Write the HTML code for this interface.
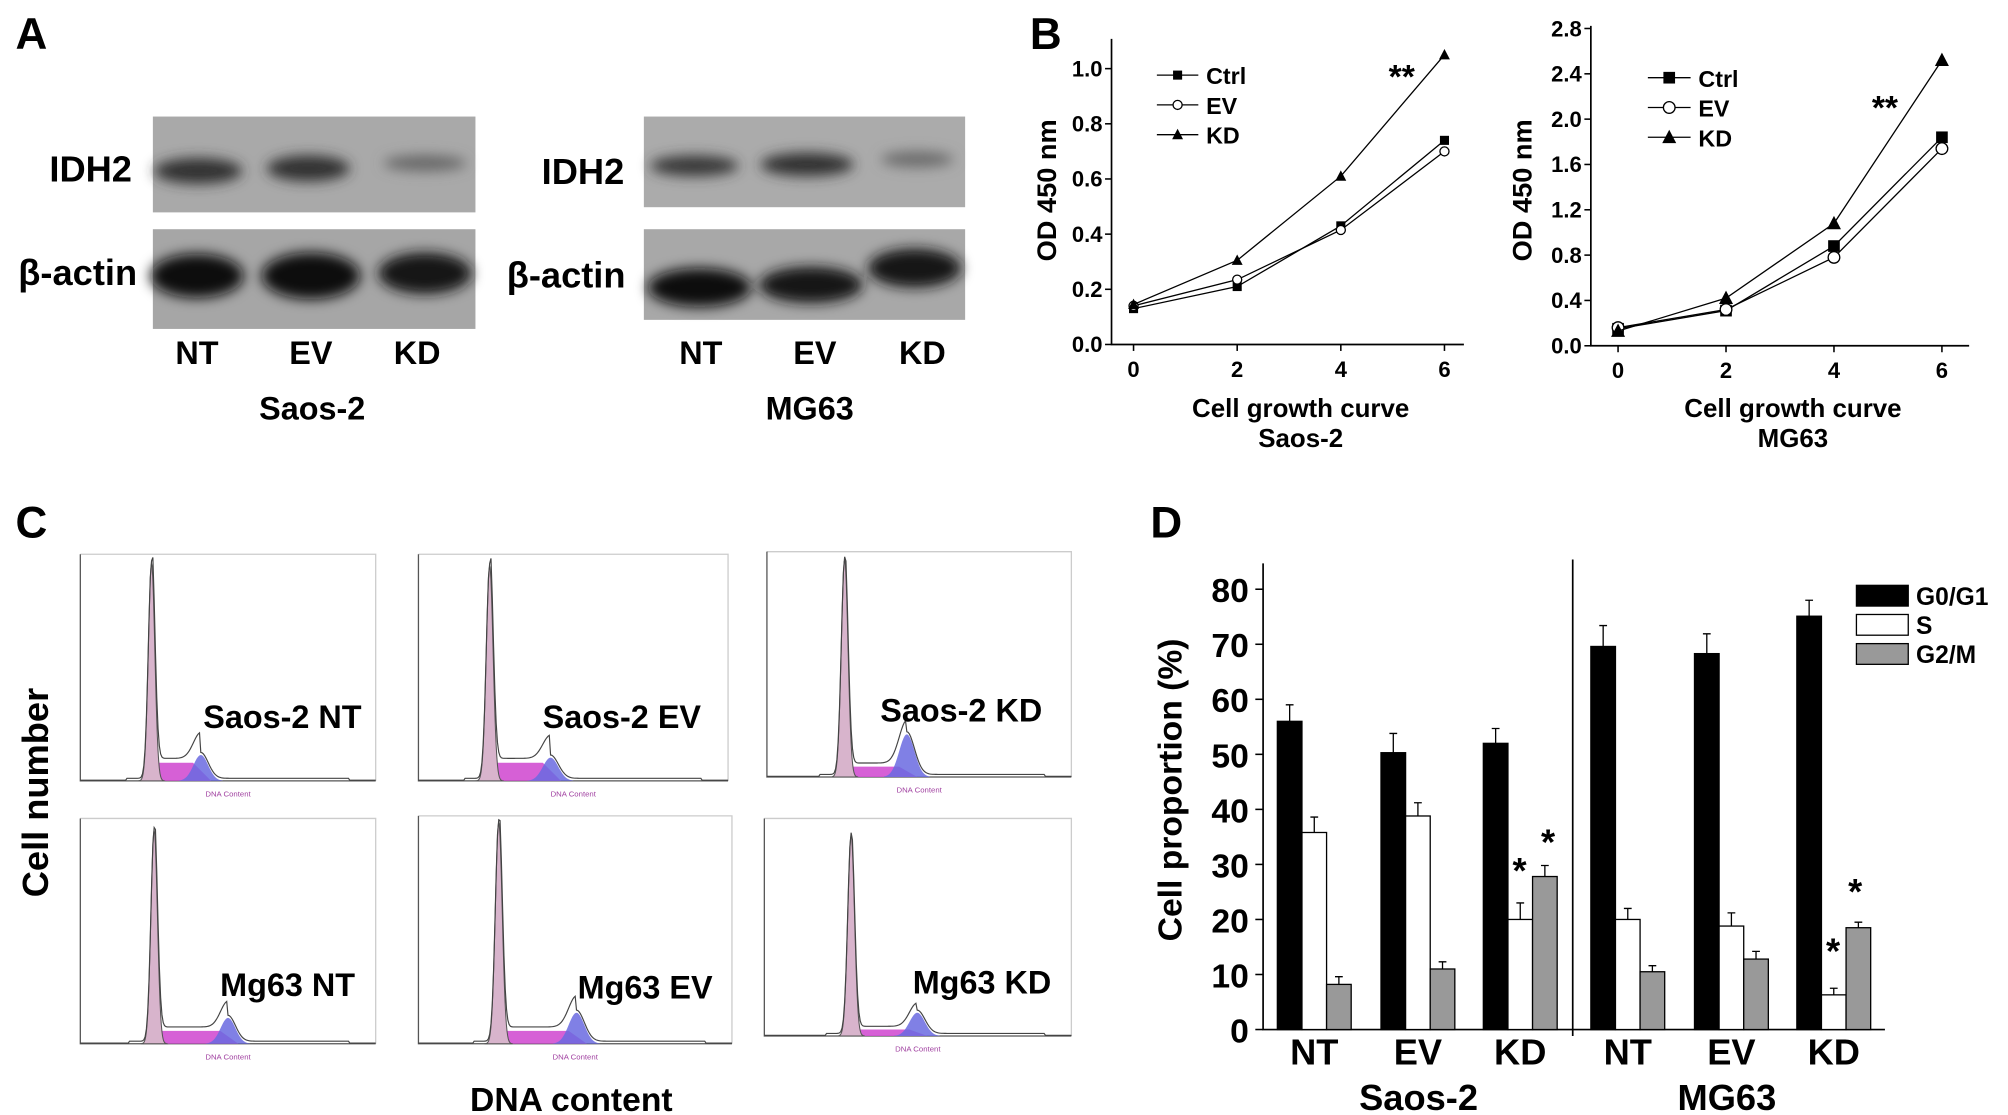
<!DOCTYPE html>
<html><head><meta charset="utf-8"><style>
html,body{margin:0;padding:0;background:#fff;}
svg{display:block;}
text{font-family:"Liberation Sans Narrow","Liberation Sans",sans-serif;font-weight:bold;fill:#000;}
.w{font-family:"Liberation Sans",sans-serif;}
</style></head><body>
<svg id="fig" width="2008" height="1115" viewBox="0 0 1550 861" preserveAspectRatio="none" xmlns="http://www.w3.org/2000/svg">
<defs>
<filter id="blur" x="-30%" y="-50%" width="160%" height="200%"><feGaussianBlur stdDeviation="5"/></filter>
</defs>
<!-- Panel letters -->
<text class="w" x="12" y="38" font-size="34">A</text>
<text class="w" x="795" y="38" font-size="34">B</text>
<text class="w" x="12" y="415" font-size="34">C</text>
<text class="w" x="888" y="415" font-size="34">D</text>

<!-- Panel A blots -->
<g>
<rect x="118" y="90" width="249" height="74" fill="#a9a9a9"/>
<rect x="118" y="177" width="249" height="77" fill="#a6a6a6"/>
<rect x="497" y="90" width="248" height="70" fill="#ababab"/>
<rect x="497" y="177" width="248" height="70" fill="#a8a8a8"/>
<g filter="url(#blur)">
<ellipse cx="153" cy="132" rx="34" ry="10" fill="#303030"/>
<ellipse cx="238" cy="130" rx="32" ry="10" fill="#333"/>
<ellipse cx="328" cy="126" rx="32" ry="6" fill="#666"/>
<ellipse cx="152" cy="213" rx="36" ry="17" fill="#111"/>
<ellipse cx="240" cy="213" rx="38" ry="18" fill="#111"/>
<ellipse cx="328" cy="211" rx="36" ry="16" fill="#151515"/>
<ellipse cx="536" cy="128" rx="34" ry="8" fill="#383838"/>
<ellipse cx="623" cy="127" rx="36" ry="9" fill="#333"/>
<ellipse cx="708" cy="123" rx="28" ry="6" fill="#6a6a6a"/>
<ellipse cx="540" cy="222" rx="40" ry="15" fill="#111"/>
<ellipse cx="626" cy="220" rx="40" ry="14" fill="#151515"/>
<ellipse cx="706" cy="207" rx="36" ry="15" fill="#151515"/>
</g>
<text x="70" y="140" font-size="28" text-anchor="middle">IDH2</text>
<text x="60" y="220" font-size="28" text-anchor="middle">β-actin</text>
<text x="450" y="142" font-size="28" text-anchor="middle">IDH2</text>
<text x="437" y="222" font-size="28" text-anchor="middle">β-actin</text>
<g font-size="25" text-anchor="middle">
<text x="152" y="281">NT</text>
<text x="240" y="281">EV</text>
<text x="322" y="281">KD</text>
<text x="541" y="281">NT</text>
<text x="629" y="281">EV</text>
<text x="712" y="281">KD</text>
<text x="241" y="324">Saos-2</text>
<text x="625" y="324">MG63</text>
</g>
</g>

<g id="panelB"></g>
<g id="panelC"></g>
<g id="panelD"></g>
</svg>
<script>
const NS='http://www.w3.org/2000/svg';
function mk(p,tag,at,txt){const e=document.createElementNS(NS,tag);for(const k in at)e.setAttribute(k,at[k]);if(txt!==undefined)e.textContent=txt;p.appendChild(e);return e;}

// ---------- Panel B data ----------
const days=[0,2,4,6];
const saosCtrl=[0.13,0.21,0.43,0.74];
const saosEV=[0.14,0.235,0.415,0.70];
const saosKD=[0.145,0.305,0.61,1.05];
const mgCtrl=[0.15,0.31,0.88,1.84];
const mgEV=[0.16,0.32,0.78,1.74];
const mgKD=[0.13,0.42,1.08,2.52];
const saosTicks=['0.0','0.2','0.4','0.6','0.8','1.0'];
const mgTicks=['0.0','0.4','0.8','1.2','1.6','2.0','2.4','2.8'];
const dayTicks=['0','2','4','6'];

const B=document.getElementById('panelB');
function growth(cfg){
  const g=mk(B,'g',{});
  
  
  const X=d=>cfg.x0+(d-0)/6*(cfg.x6-cfg.x0);
  const Y=v=>cfg.yb-v/cfg.vmax*(cfg.yb-cfg.yt);
  const ax=mk(g,'path',{d:`M${cfg.ax},${cfg.top}V${cfg.yb}H${cfg.right}`,fill:'none',stroke:'#000','stroke-width':1.3});
  
  
  cfg.ticks.forEach(t=>{const y=Y(parseFloat(t));
    mk(g,'line',{x1:cfg.ax-5,x2:cfg.ax,y1:y,y2:y,stroke:'#000','stroke-width':1.2});
    const tx=mk(g,'text',{x:cfg.ax-7,y:y+6,'font-size':17,'text-anchor':'end'},t);
    
    
  });
  dayTicks.forEach(t=>{const x=X(+t);
    mk(g,'line',{x1:x,x2:x,y1:cfg.yb,y2:cfg.yb+5,stroke:'#000','stroke-width':1.2});
    const tx=mk(g,'text',{x:x,y:cfg.yb+25,'font-size':17,'text-anchor':'middle'},t);
    
    
  });
  const yt=mk(g,'text',{class:'w',x:0,y:0,'font-size':21,'text-anchor':'middle',transform:`translate(${cfg.ytx},${cfg.yty}) rotate(-90)`},'OD 450 nm');
  
  
  const t1=mk(g,'text',{x:(cfg.ax+cfg.right)/2+10,y:322,'font-size':20,'text-anchor':'middle'},'Cell growth curve');
  
  
  const t2=mk(g,'text',{x:(cfg.ax+cfg.right)/2+10,y:345,'font-size':20,'text-anchor':'middle'},cfg.cell);
  
  
  const series=[['Ctrl',cfg.ctrl,'sq'],['EV',cfg.ev,'ci'],['KD',cfg.kd,'tr']];
  function marker(p,x,y,type,s){
    if(type==='sq') return mk(p,'rect',{x:x-s,y:y-s,width:2*s,height:2*s,fill:'#000'});
    if(type==='ci') return mk(p,'circle',{cx:x,cy:y,r:s,fill:'#fff',stroke:'#000','stroke-width':1});
    return mk(p,'path',{d:`M${x},${y-s*1.3}L${x+s*1.2},${y+s}L${x-s*1.2},${y+s}Z`,fill:'#000'});
  }
  series.forEach(([nm,vals,type],i)=>{
    const sg=mk(g,'g',{});
    
    
    mk(sg,'polyline',{points:vals.map((v,j)=>X(days[j])+','+Y(v)).join(' '),fill:'none',stroke:'#000','stroke-width':1});
    vals.forEach((v,j)=>{const m=marker(sg,X(days[j]),Y(v),type,cfg.ms);
      
      });
    const ly=cfg.ly+i*23;
    const lg=mk(g,'g',{});
    
    
    mk(lg,'line',{x1:cfg.lx,x2:cfg.lx+cfg.lw,y1:ly,y2:ly,stroke:'#000','stroke-width':1});
    marker(lg,cfg.lx+cfg.lw/2,ly,type,cfg.ms);
    mk(lg,'text',{x:cfg.lx+cfg.lw+6,y:ly+7,'font-size':18},nm);
  });
  const st=mk(g,'text',{class:'w',x:cfg.sx,y:cfg.sy,'font-size':26,'text-anchor':'middle'},'**');
  
  
}
growth({name:'saos2-growth-chart',ax:858,top:30,right:1130,yb:266,yt:53,vmax:1.0,x0:875,x6:1115,ticks:saosTicks,ctrl:saosCtrl,ev:saosEV,kd:saosKD,ytx:815,yty:147,cell:'Saos-2',lx:893,lw:32,ly:58,ms:3.5,sx:1082,sy:68});
growth({name:'mg63-growth-chart',ax:1228,top:20,right:1520,yb:267,yt:22,vmax:2.8,x0:1249,x6:1499,ticks:mgTicks,ctrl:mgCtrl,ev:mgEV,kd:mgKD,ytx:1182,yty:147,cell:'MG63',lx:1272,lw:33,ly:60,ms:4.5,sx:1455,sy:92});

// ---------- Panel C flow histograms ----------
const C=document.getElementById('panelC');
const flows=[
 {n:'Saos-2 NT',x0:62,x1:290,y0:428,yb:603,pk:117,top:435,g2:155,gh:20,sh:14,lx:218,ly:562},
 {n:'Saos-2 EV',x0:323,x1:562,y0:428,yb:603,pk:378,top:437,g2:425,gh:18,sh:14,lx:480,ly:562},
 {n:'Saos-2 KD',x0:592,x1:827,y0:426,yb:600,pk:652,top:432,g2:700,gh:33,sh:8,lx:742,ly:557},
 {n:'Mg63 NT',x0:62,x1:290,y0:632,yb:806,pk:119,top:641,g2:176,gh:20,sh:10,lx:222,ly:769},
 {n:'Mg63 EV',x0:323,x1:565,y0:630,yb:806,pk:385,top:635,g2:445,gh:24,sh:10,lx:498,ly:771},
 {n:'Mg63 KD',x0:590,x1:827,y0:632,yb:800,pk:657,top:645,g2:708,gh:18,sh:5,lx:758,ly:767}
];
flows.forEach(f=>{
  const g=mk(C,'g',{});
  
  
  mk(g,'path',{d:`M${f.x0},${f.y0}H${f.x1}V${f.yb}`,fill:'none',stroke:'#ccc','stroke-width':1});
  mk(g,'path',{d:`M${f.x0},${f.y0}V${f.yb}H${f.x1}`,fill:'none',stroke:'#555','stroke-width':1});
  const W=f.x1-f.x0, ph=f.yb-f.top, sig=W*0.011, gs=W*0.025;
  const g1=x=>ph*Math.exp(-((x-f.pk)**2)/(2*sig*sig));
  const g2=x=>f.gh*Math.exp(-((x-f.g2)**2)/(2*gs*gs));
  const sp=x=>(x>f.pk&&x<f.g2)?f.sh:0;
  let p1=`M${f.pk-4*sig},${f.yb}`,p2=`M${f.pk},${f.yb}`,p3=`M${f.g2-3*gs},${f.yb}`,tot='';
  for(let x=f.pk-4*sig;x<=f.pk+4*sig;x+=0.5)p1+=`L${x},${f.yb-g1(x)}`;
  p1+=`L${f.pk+4*sig},${f.yb}Z`;
  p2+=`L${f.pk+4},${f.yb-f.sh}L${f.g2-6},${f.yb-f.sh}L${f.g2+8},${f.yb}Z`;
  for(let x=f.g2-3*gs;x<=f.g2+3*gs;x+=1)p3+=`L${x},${f.yb-g2(x)}`;
  p3+=`L${f.g2+3*gs},${f.yb}Z`;
  for(let x=f.x0;x<=f.x1;x+=1){const v=g1(x)+g2(x)+sp(x)*1.1+(x>f.pk-20&&x<f.x1-20?2:0.5);tot+=(tot?'L':'M')+x+','+(f.yb-v);}
  mk(g,'path',{d:p2,fill:'#d14fd1',opacity:0.9});
  mk(g,'path',{d:p3,fill:'#6a6ae0',opacity:0.85});
  mk(g,'path',{d:p1,fill:'#d8b4cc',stroke:'#555','stroke-width':0.8});
  mk(g,'path',{d:tot,fill:'none',stroke:'#444','stroke-width':0.9});
  const lab=mk(g,'text',{class:'w',x:f.lx,y:f.ly,'font-size':25,'text-anchor':'middle'},f.n);
  
  
  mk(g,'text',{x:(f.x0+f.x1)/2,y:f.yb+12,'font-size':6,'text-anchor':'middle',style:'fill:#a040a0;font-weight:normal'},'DNA Content');
});
const cn=mk(C,'text',{class:'w',x:0,y:0,'font-size':28,'text-anchor':'middle',transform:'translate(37,612) rotate(-90)'},'Cell number');


const dc=mk(C,'text',{x:441,y:858,'font-size':26,'text-anchor':'middle'},'DNA content');



// ---------- Panel D data ----------
const groups=['NT','EV','KD','NT','EV','KD'];
const g0g1=[56,50.3,52,69.6,68.3,75.1];
const g0g1Err=[3,3.5,2.7,3.8,3.6,2.9];
const sPhase=[35.8,38.8,20,20,18.8,6.3];
const sErr=[2.8,2.4,3,2,2.4,1.2];
const g2m=[8.2,11,27.8,10.5,12.8,18.5];
const g2mErr=[1.4,1.3,2,1.1,1.4,1];
const dTicks=['0','10','20','30','40','50','60','70','80'];
const groupStart=[986,1066,1145,1228,1308,1387];
const D=document.getElementById('panelD');
const YD=v=>795-v*(340/80);
const bw=19;
mk(D,'path',{d:'M975,435V795H1455',fill:'none',stroke:'#000','stroke-width':1.3});
mk(D,'line',{x1:1214,x2:1214,y1:432,y2:800,stroke:'#000','stroke-width':1.3});
dTicks.forEach(t=>{const y=YD(+t);
  mk(D,'line',{x1:969,x2:975,y1:y,y2:y,stroke:'#000','stroke-width':1.2});
  const tx=mk(D,'text',{x:964,y:y+10,'font-size':26,'text-anchor':'end'},t);
  
  
});
const colors=['#000','#fff','#999'];
const series=[g0g1,sPhase,g2m],errs=[g0g1Err,sErr,g2mErr],snames=['g0g1','s','g2m'];
groups.forEach((gname,i)=>{
  series.forEach((arr,k)=>{
    const x=groupStart[i]+k*bw,v=arr[i],e=errs[k][i];
    const r=mk(D,'rect',{x:x,y:YD(v),width:bw,height:YD(0)-YD(v),fill:colors[k],stroke:'#000','stroke-width':1});
    
    
    mk(D,'path',{d:`M${x+bw/2},${YD(v)}V${YD(v+e)}M${x+bw/2-3},${YD(v+e)}H${x+bw/2+3}`,stroke:'#000','stroke-width':1,fill:'none'});
  });
  const lx=groupStart[i]+1.5*bw;
  const tl=mk(D,'text',{x:lx,y:822,'font-size':28,'text-anchor':'middle'},gname);
  
  
});
[[1173,682],[1195,660],[1415,744],[1432,698]].forEach(([x,y])=>{
  const s=mk(D,'text',{class:'w',x:x,y:y,'font-size':28,'text-anchor':'middle'},'*');
  
  
});
const sl=mk(D,'text',{x:1095,y:857,'font-size':28,'text-anchor':'middle'},'Saos-2');


const ml=mk(D,'text',{x:1333,y:857,'font-size':28,'text-anchor':'middle'},'MG63');


const yd=mk(D,'text',{class:'w',x:0,y:0,'font-size':26,'text-anchor':'middle',transform:'translate(912,610) rotate(-90)'},'Cell proportion (%)');


['G0/G1','S','G2/M'].forEach((n,k)=>{
  const lg=mk(D,'g',{});
  
  
  mk(lg,'rect',{x:1433,y:452+k*22.5,width:40,height:16,fill:colors[k],stroke:'#000','stroke-width':1});
  mk(lg,'text',{x:1479,y:467+k*22.5,'font-size':19},n);
});
</script>
</body></html>
